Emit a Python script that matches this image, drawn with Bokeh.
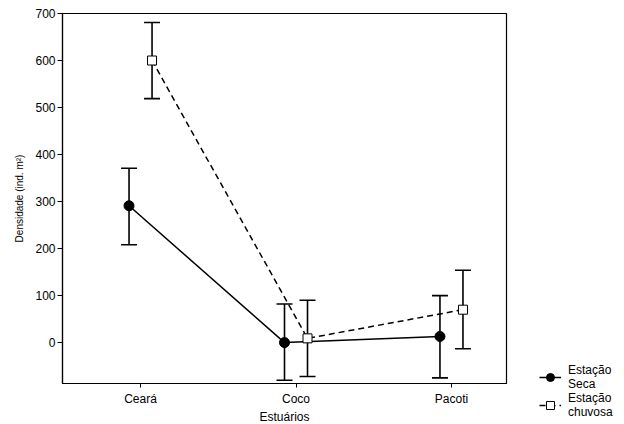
from bokeh.plotting import figure
from bokeh.models import (ColumnDataSource, Whisker, TeeHead, FixedTicker, Range1d,
                          Legend, LegendItem)
from bokeh.embed import file_html
from bokeh.resources import INLINE

categories = ["Ceará", "Coco", "Pacoti"]
seca_mean = [291, 0, 13]
seca_upper = [371, 82, 100]
seca_lower = [208, -80, -75]
chuvosa_mean = [600, 9, 70]
chuvosa_upper = [681, 90, 154]
chuvosa_lower = [519, -72, -13]
y_ticks = [0, 100, 200, 300, 400, 500, 600, 700]

pos = [1, 2, 3]
off = 0.074
src_s = ColumnDataSource(dict(x=[p - off for p in pos], y=seca_mean, up=seca_upper, lo=seca_lower))
src_c = ColumnDataSource(dict(x=[p + off for p in pos], y=chuvosa_mean, up=chuvosa_upper, lo=chuvosa_lower))

FONT = "Liberation Sans"

p = figure(frame_width=444, frame_height=370, output_backend="svg", toolbar_location=None,
           x_range=Range1d(0.498, 3.354), y_range=Range1d(-87, 700),
           min_border_left=62, min_border_top=13, min_border_right=0, min_border_bottom=38)
p.xgrid.visible = False
p.ygrid.visible = False
p.outline_line_color = "black"
p.outline_line_width = 1.2

for ax in (p.xaxis, p.yaxis):
    ax.axis_line_color = "black"
    ax.axis_line_width = 1.2
    ax.major_tick_line_color = "black"
    ax.major_tick_in = 0
    ax.major_tick_out = 4
    ax.minor_tick_line_color = None
    ax.major_label_text_font = FONT
    ax.major_label_text_font_size = "12px"
    ax.major_label_text_color = "black"
    ax.axis_label_text_font = FONT
    ax.axis_label_text_font_style = "normal"
    ax.axis_label_text_color = "black"

p.xaxis.ticker = FixedTicker(ticks=pos)
p.xaxis.major_label_overrides = {k: v for k, v in zip(pos, categories)}
p.xaxis.axis_label = "Estuários"
p.xaxis.axis_label_text_font_size = "12px"
p.xaxis.major_label_standoff = 4
p.xaxis.axis_label_standoff = 1
p.yaxis.ticker = FixedTicker(ticks=y_ticks)
p.yaxis.axis_label = "Densidade (ind. m²)"
p.yaxis.axis_label_text_font_size = "10px"
p.yaxis.major_tick_out = 5
p.yaxis.major_label_standoff = 2
p.yaxis.axis_label_standoff = 7

for src in (src_s, src_c):
    w = Whisker(source=src, base="x", upper="up", lower="lo",
                line_color="black", line_width=1.6,
                upper_head=TeeHead(size=16, line_color="black", line_width=1.6),
                lower_head=TeeHead(size=16, line_color="black", line_width=1.6))
    p.add_layout(w)

ln_s = p.line("x", "y", source=src_s, line_color="black", line_width=1.5)
ln_c = p.line("x", "y", source=src_c, line_color="black", line_width=1.5, line_dash="6 4")
s1 = p.scatter("x", "y", source=src_s, marker="circle", size=10, fill_color="black", line_color="black")
s2 = p.scatter("x", "y", source=src_c, marker="square", size=9, fill_color="white", line_color="black", line_width=1)

legend = Legend(items=[LegendItem(label="Estação\nSeca", renderers=[ln_s, s1]),
                       LegendItem(label="Estação\nchuvosa", renderers=[ln_c, s2])],
                location=(33, -36), border_line_color=None, background_fill_alpha=0,
                label_text_font=FONT, label_text_font_size="12px", label_text_color="black",
                glyph_width=22, label_standoff=7, spacing=0, padding=2, margin=0,
                label_text_line_height=1.15)
p.add_layout(legend, "right")

open("out.html", "w").write(file_html(p, INLINE))
